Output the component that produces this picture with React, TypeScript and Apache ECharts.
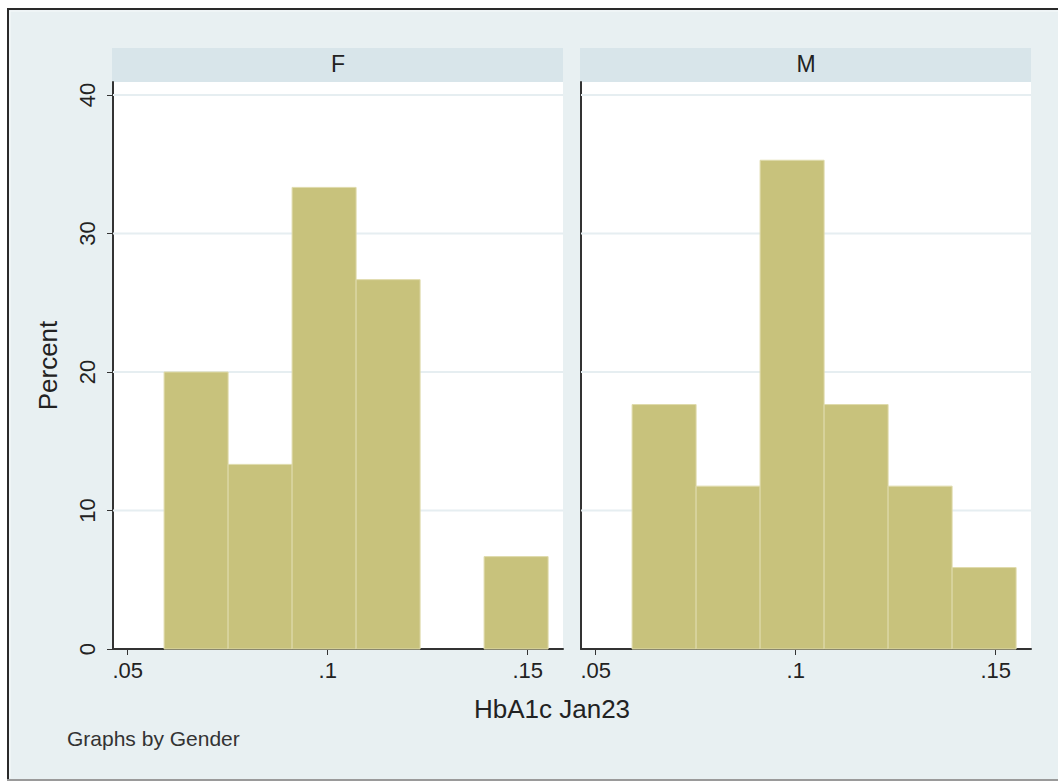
import React, { useEffect, useRef } from "react";
import * as echarts from "echarts";

const binEdges = [0.0591, 0.0751, 0.0911, 0.1071, 0.1231, 0.1391, 0.1551];
const femalePct = [20, 13.33, 33.33, 26.67, 0, 6.67];
const malePct = [17.65, 11.76, 35.29, 17.65, 11.76, 5.88];
const panelLabels = ["F", "M"];
const yTicks = [0, 10, 20, 30, 40];
const xTicks = [0.05, 0.1, 0.15];
const xTickLabels = [".05", ".1", ".15"];
const xTitle = "HbA1c Jan23";
const yTitle = "Percent";
const note = "Graphs by Gender";

const FONT = "Liberation Sans, Arial, Helvetica, sans-serif";
const XMIN = 0.046325;
const XMAX = 0.158825;
const YMAX = 40.94;

function toBins(vals: number[]) {
  return vals.map((v, i) => [binEdges[i], binEdges[i + 1], v]);
}

export default function App() {
  const ref = useRef<HTMLDivElement>(null);
  useEffect(() => {
    if (!ref.current) return;
    const chart = echarts.init(ref.current, null, { renderer: "svg" });
    const renderItem = (params: any, api: any) => {
      const v = api.value(2);
      if (!v) return null;
      const p0 = api.coord([api.value(0), 0]);
      const p1 = api.coord([api.value(1), v]);
      return {
        type: "rect",
        shape: { x: p0[0], y: p1[1], width: p1[0] - p0[0], height: p0[1] - p1[1] },
        style: { fill: "#C8C27C", stroke: "#DFDBAC", lineWidth: 1 },
      };
    };
    const lefts = [113, 581];
    const grids = lefts.map((l) => ({
      left: l,
      top: 82,
      width: 450,
      height: 567,
      show: true,
      backgroundColor: "#ffffff",
      borderWidth: 0,
    }));
    const xAxes = [0, 1].map((i) => ({
      type: "value",
      gridIndex: i,
      min: XMIN,
      max: XMAX,
      axisLine: { show: true, onZero: false, lineStyle: { color: "#333", width: 2 } },
      axisTick: {
        show: true,
        length: 6,
        customValues: xTicks,
        lineStyle: { color: "#333", width: 1 },
      },
      axisLabel: {
        customValues: xTicks,
        margin: 10,
        fontSize: 22,
        color: "#222",
        fontFamily: FONT,
        formatter: (v: number) => {
          const k = xTicks.findIndex((t) => Math.abs(t - v) < 1e-9);
          return k >= 0 ? xTickLabels[k] : "";
        },
      },
      splitLine: { show: false },
    }));
    const yAxes = [0, 1].map((i) => ({
      type: "value",
      gridIndex: i,
      min: 0,
      max: YMAX,
      name: i === 0 ? yTitle : "",
      nameLocation: "middle",
      nameRotate: 90,
      nameGap: 52,
      nameTextStyle: { fontSize: 26, color: "#222", fontFamily: FONT },
      axisLine: { show: true, lineStyle: { color: "#333", width: 2 } },
      axisTick: {
        show: i === 0,
        length: 6,
        customValues: yTicks,
        lineStyle: { color: "#333", width: 1 },
      },
      axisLabel: {
        show: i === 0,
        customValues: yTicks,
        rotate: 90,
        margin: 15,
        fontSize: 22,
        color: "#222",
        fontFamily: FONT,
      },
      splitLine: { show: false },
    }));
    const gridLineSeries = [0, 1].map((i) => ({
      type: "custom",
      xAxisIndex: i,
      yAxisIndex: i,
      silent: true,
      z: 1,
      data: yTicks.filter((t) => t > 0).map((t) => [t]),
      renderItem: (params: any, api: any) => {
        const a = api.coord([XMIN, api.value(0)]);
        const b = api.coord([XMAX, api.value(0)]);
        return {
          type: "line",
          shape: { x1: a[0], y1: a[1], x2: b[0], y2: b[1] },
          style: { stroke: "#E6EEF1", lineWidth: 2 },
        };
      },
    }));
    const stripGraphics = lefts.map((l, i) => ({
      type: "group",
      children: [
        {
          type: "rect",
          shape: { x: l - 1, y: 48, width: 451, height: 34 },
          style: { fill: "#D8E5EA" },
        },
        {
          type: "text",
          x: l + 225,
          y: 64,
          style: {
            text: panelLabels[i],
            fontSize: 23,
            fill: "#222",
            fontFamily: FONT,
            align: "center",
            verticalAlign: "middle",
          },
        },
      ],
    }));
    chart.setOption({
      animation: false,
      backgroundColor: "#E8F0F2",
      grid: grids,
      xAxis: xAxes,
      yAxis: yAxes,
      series: [
        ...gridLineSeries,
        {
          type: "custom",
          xAxisIndex: 0,
          yAxisIndex: 0,
          z: 2,
          data: toBins(femalePct),
          renderItem,
        },
        {
          type: "custom",
          xAxisIndex: 1,
          yAxisIndex: 1,
          z: 2,
          data: toBins(malePct),
          renderItem,
        },
      ],
      graphic: [
        { type: "rect", shape: { x: 0, y: 0, width: 1058, height: 8 }, style: { fill: "#fff" } },
        { type: "rect", shape: { x: 0, y: 0, width: 7, height: 783 }, style: { fill: "#fff" } },
        { type: "rect", shape: { x: 0, y: 781, width: 1058, height: 2 }, style: { fill: "#fff" } },
        { type: "line", shape: { x1: 7, y1: 9, x2: 1058, y2: 9 }, style: { stroke: "#2a2a2a", lineWidth: 2 } },
        { type: "line", shape: { x1: 8, y1: 8, x2: 8, y2: 781 }, style: { stroke: "#2a2a2a", lineWidth: 2 } },
        { type: "line", shape: { x1: 7, y1: 780, x2: 1058, y2: 780 }, style: { stroke: "#9a9a9a", lineWidth: 2 } },
        { type: "line", shape: { x1: 10, y1: 11, x2: 1058, y2: 11 }, style: { stroke: "#F6F9FA", lineWidth: 1 } },
        { type: "line", shape: { x1: 10, y1: 11, x2: 10, y2: 778 }, style: { stroke: "#F6F9FA", lineWidth: 1 } },
        ...stripGraphics,
        {
          type: "text",
          x: 552,
          y: 709,
          style: {
            text: xTitle,
            fontSize: 26,
            fill: "#222",
            fontFamily: FONT,
            align: "center",
            verticalAlign: "middle",
          },
        },
        {
          type: "text",
          x: 67,
          y: 738,
          style: {
            text: note,
            fontSize: 21,
            fill: "#333",
            fontFamily: FONT,
            align: "left",
            verticalAlign: "middle",
          },
        },
      ],
    });
    return () => chart.dispose();
  }, []);
  return (
    <div
      ref={ref}
      style={{ position: "fixed", left: 0, top: 0, width: 1058, height: 783 }}
    />
  );
}
